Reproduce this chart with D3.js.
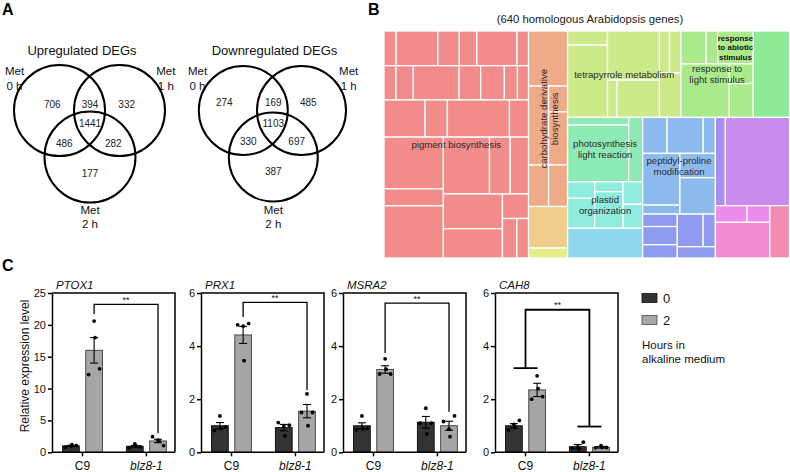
<!DOCTYPE html>
<html><head><meta charset="utf-8">
<script src="https://cdn.jsdelivr.net/npm/d3@7"></script>
<style>
body{margin:0;background:#fff}
svg{display:block;font-family:Arial,"Liberation Sans",sans-serif}
</style>
</head><body><svg id="fig" width="790" height="472"></svg>
<script>
// ================= Panel A : Venn diagrams =================
const vennTitles = ["Upregulated DEGs", "Downregulated DEGs"];
const vennSetLabels = [["Met", "0 h"], ["Met", "1 h"], ["Met", "2 h"]];
// region order: 0h only, 0h&1h, 1h only, all three, 0h&2h, 1h&2h, 2h only
const upCounts = [706, 394, 332, 1441, 486, 282, 177];
const downCounts = [274, 169, 485, 1103, 330, 697, 387];

// ================= Panel B : GO treemap =================
const treemapTitle = "(640 homologous Arabidopsis genes)";
const pigmentBlocks = [
  {dir: "h", children: [42, 145, 74, 61, 139, 40]},
  {dir: "h", children: [41, 59, 157, 74, 81, 45, 38]},
  {dir: "h", children: [153, 83, 231, 71]},
  {dir: "h", children: [
    {dir: "v", children: [307, 101, 310]},
    {dir: "v", children: [
      {dir: "h", children: [262, 118, 104]},
      {dir: "h", children: [{dir: "v", children: [205, 173]}, {dir: "v", children: [64, {dir: "h", children: [57, 46]}]}]}
    ]}
  ]}
];
const carbohydrateBlocks = [215, {dir: "h", children: [{dir: "v", children: [158, 83]}, {dir: "v", children: [49, 101, 79]}]}];
const tetrapyrroleBlocks = [
  {dir: "v", children: [56, 289]},
  {dir: "v", children: [255, {dir: "h", children: [35, 159]}]},
  {dir: "v", children: [{dir: "h", children: [42, 48]}, 95]}
];
const lightStimulusBlocks = [
  {dir: "h", children: [83, 38, {value: 117, label: "response\nto abiotic\nstimulus", bold: true}]},
  {dir: "h", children: [259, {dir: "v", children: [47, 81]}]}
];
const photosynthesisBlocks = [{dir: "v", children: [47, 346]}, 90];
const plastidBlocks = [{dir: "v", children: [45, 81]}, {dir: "v", children: [28, 104]}, {dir: "v", children: [44, 47]}];
const peptidylBlocks = [
  {dir: "h", children: [88, 130, 44]},
  {dir: "h", children: [{dir: "v", children: [193, 34]}, {dir: "v", children: [86, 129]}]}
];
const blueBlocks = [{dir: "v", children: [43, 63, 46]}, {dir: "v", children: [{dir: "h", children: [84, 40]}, 43]}];

// ================= Panel C : qPCR bars =================
const genes = ["PTOX1", "PRX1", "MSRA2", "CAH8"];
const genotypes = ["C9", "blz8-1"];
const hours = ["0", "2"];
const yMax = [25, 6, 6, 6];
const yTickStep = [5, 2, 2, 2];
// per gene: [C9 0h, C9 2h, blz8-1 0h, blz8-1 2h]
const barMeans = [[1.0, 16.0, 0.95, 1.78], [1.0, 4.42, 0.93, 1.55], [1.0, 3.12, 1.13, 1.0], [1.0, 2.35, 0.21, 0.19]];
const barSem = [[0.1, 2.0, 0.12, 0.27], [0.12, 0.32, 0.12, 0.25], [0.11, 0.14, 0.22, 0.17], [0.08, 0.25, 0.08, 0.03]];
const barPoints = [
  [[1.0, 1.2, 0.8, 1.05], [20.6, 18.0, 12.2, 13.1], [1.3, 1.0, 0.7, 0.85], [1.9, 1.75, 2.45, 1.05]],
  [[1.37, 0.9, 0.82, 0.95], [4.75, 3.45, 4.8, 4.85], [1.0, 0.62, 1.12, 1.02], [2.2, 1.0, 1.5, 1.5]],
  [[1.37, 0.88, 0.85, 0.9], [3.52, 3.13, 2.95, 2.95], [1.66, 0.69, 1.1, 1.1], [0.87, 0.59, 1.16, 1.37]],
  [[1.05, 0.93, 0.85, 1.2], [2.88, 2.4, 2.0, 2.1], [0.2, 0.12, 0.15, 0.38], [0.25, 0.18, 0.17, 0.18]]
];
const bracketY = [23.2, 5.65, 5.62, 5.37];
const bracketLeftEnd = [21.7, 5.1, 3.74, 3.17];
const bracketRightEnd = [3.0, 2.35, 1.53, 0.97];
const bracketKind = ["bar", "bar", "bar", "group"];
const legendTitle = ["Hours in", "alkaline medium"];

// ---------------------------------------------------------
const svg = d3.select("#fig");
const FONT = 'Arial,"Liberation Sans",sans-serif';

// panel letters
[["A", 2, 15], ["B", 368, 15], ["C", 2, 271]].forEach(([t, x, y]) =>
  svg.append("text").attr("x", x).attr("y", y).attr("font-size", 16).attr("font-weight", "bold").text(t));

// ---------------- Venn ----------------
const vennLayouts = [
  {cx: 90, cy: 157, r: 45.5, dx: [-30.5, 29.5], dy: -46.5, tx: 82,
   nx: [-37.7, 0, 36.7, 0, -25.7, 23.3, 0], ny: [104, 104, 104, 123.3, 143.3, 143.3, 173.3],
   lx: [14.5, 165.8]},
  {cx: 273.3, cy: 157, r: 44.5, dx: [-30, 28.2], dy: -46.5, tx: 274.5,
   nx: [-49, 0, 35, 0, -25, 23.4, 0], ny: [102.3, 102.3, 102.3, 123.3, 141.7, 141.7, 171.7],
   lx: [197.5, 348.7]}
];
[upCounts, downCounts].forEach((counts, vi) => {
  const L = vennLayouts[vi];
  const g = svg.append("g");
  const centers = [[L.cx + L.dx[0], L.cy + L.dy], [L.cx + L.dx[1], L.cy + L.dy], [L.cx, L.cy]];
  g.selectAll("circle").data(centers).join("circle")
    .attr("cx", d => d[0]).attr("cy", d => d[1]).attr("r", L.r)
    .attr("fill", "none").attr("stroke", "#000").attr("stroke-width", 2);
  g.append("text").attr("x", L.tx).attr("y", 55).attr("text-anchor", "middle")
    .attr("font-size", 13).attr("fill", "#111").text(vennTitles[vi]);
  g.selectAll("text.n").data(counts).join("text").attr("class", "n")
    .attr("x", (d, i) => L.cx + L.nx[i]).attr("y", (d, i) => L.ny[i])
    .attr("text-anchor", "middle").attr("dominant-baseline", "central")
    .attr("font-size", 10).attr("fill", "#222").text(d => d);
  const setPos = [[L.lx[0], 75], [L.lx[1], 75], [L.cx, 213.5]];
  vennSetLabels.forEach((lines, si) => {
    lines.forEach((ln, li) => {
      g.append("text").attr("x", setPos[si][0]).attr("y", setPos[si][1] + li * 14.5)
        .attr("text-anchor", "middle").attr("font-size", 11.5).attr("fill", "#111").text(ln);
    });
  });
});

// ---------------- Treemap ----------------
const treeData = {dir: "h", children: [
  {label: "pigment biosynthesis", color: "#f18c8b", dir: "v", children: pigmentBlocks},
  {dir: "v", children: [
    {label: "carbohydrate derivative\nbiosynthesis", rotate: true, color: "#efab88", dir: "v", children: carbohydrateBlocks},
    {value: 162, color: "#efcd8b"},
    {value: 39, color: "#e6ed8b"}
  ]},
  {dir: "v", children: [
    {dir: "h", children: [
      {label: "tetrapyrrole metabolism", color: "#cdea8b", dir: "h", children: tetrapyrroleBlocks},
      {label: "response to\nlight stimulus", color: "#aaea8b", dir: "v", children: lightStimulusBlocks},
      {value: 313, color: "#8eea97"}
    ]},
    {dir: "h", children: [
      {dir: "v", children: [
        {label: "photosynthesis\nlight reaction", color: "#8eeab4", dir: "h", children: photosynthesisBlocks},
        {label: "plastid\norganization", color: "#8eecdc", dir: "h", children: plastidBlocks},
        {value: 223, color: "#8ed9ee"}
      ]},
      {dir: "v", children: [
        {label: "peptidyl-proline\nmodification", color: "#8cbaee", dir: "v", children: peptidylBlocks},
        {color: "#8e9bee", dir: "h", children: blueBlocks}
      ]},
      {dir: "v", children: [
        {dir: "h", children: [{value: 88, color: "#a88eee"}, {value: 566, color: "#c88cee"}]},
        {dir: "h", children: [
          {dir: "v", children: [{dir: "h", color: "#ee8cee", children: [53, 38]}, {value: 194, color: "#ef8cd4"}]},
          {value: 103, color: "#ef8caf"}
        ]}
      ]}
    ]}
  ]}
]};
function norm(n) {
  if (typeof n === "number") return {value: n};
  if (n.children) n.children = n.children.map(norm);
  return n;
}
const root = d3.hierarchy(norm(treeData)).sum(d => d.children ? 0 : d.value);
d3.treemap().size([405.5, 227])
  .tile((node, x0, y0, x1, y1) => (node.data.dir === "v" ? d3.treemapSlice : d3.treemapDice)(node, x0, y0, x1, y1))(root);
const tm = svg.append("g").attr("transform", "translate(384,31)");
function colorOf(n) { while (n) { if (n.data.color) return n.data.color; n = n.parent; } return "#ccc"; }
tm.selectAll("rect").data(root.leaves()).join("rect")
  .attr("x", d => d.x0).attr("y", d => d.y0)
  .attr("width", d => d.x1 - d.x0).attr("height", d => d.y1 - d.y0)
  .attr("fill", d => colorOf(d)).attr("stroke", "#fff").attr("stroke-width", 1.3);
root.descendants().filter(d => d.data.label).forEach(d => {
  const cx = (d.x0 + d.x1) / 2, cy = (d.y0 + d.y1) / 2;
  const lines = d.data.label.split("\n");
  const fs = d.data.bold ? 8 : 9.6;
  const lh = d.data.bold ? 9.6 : 11;
  const t = tm.append("text").attr("font-size", fs).attr("fill", d.data.bold ? "#111" : "#2a2a2a")
    .attr("font-weight", d.data.bold ? "bold" : "normal").attr("text-anchor", "middle");
  if (d.data.rotate) t.attr("transform", `translate(${cx + 1},${cy}) rotate(-90)`);
  else t.attr("transform", `translate(${cx},${cy})`);
  lines.forEach((ln, i) => t.append("tspan").attr("x", 0)
    .attr("y", (i - (lines.length - 1) / 2) * lh).attr("dy", "0.35em").text(ln));
});
svg.append("text").attr("x", 590).attr("y", 23).attr("text-anchor", "middle")
  .attr("font-size", 11.3).attr("fill", "#222").text(treemapTitle);

// ---------------- Bar charts ----------------
const panelLeft = [52, 201, 343, 495];
const panelW = 123;
const barFill = ["#333333", "#a6a6a6"];
const barStroke = ["#111", "#4a4a4a"];
const dotOffset = [0, 1, -5.5, 5.5];
genes.forEach((gene, gi) => {
  const g = svg.append("g");
  const left = panelLeft[gi], right = left + panelW;
  const y = d3.scaleLinear().domain([0, yMax[gi]]).range([452.3, 293]);
  const x0 = d3.scaleBand().domain(genotypes).range([left, right]).paddingInner(0.375).paddingOuter(0.15).align(0.55);
  const x1 = d3.scaleBand().domain(hours).range([0, x0.bandwidth()]).paddingInner(0.28);
  const rows = [];
  genotypes.forEach((gt, a) => hours.forEach((h, b) => {
    const k = a * 2 + b;
    rows.push({gt, h, b, mean: barMeans[gi][k], sem: barSem[gi][k], pts: barPoints[gi][k],
      cx: x0(gt) + x1(h) + x1.bandwidth() / 2});
  }));
  g.selectAll("rect.bar").data(rows).join("rect").attr("class", "bar")
    .attr("x", d => x0(d.gt) + x1(d.h)).attr("width", x1.bandwidth())
    .attr("y", d => y(d.mean)).attr("height", d => y(0) - y(d.mean))
    .attr("fill", d => barFill[d.b]).attr("stroke", d => barStroke[d.b]).attr("stroke-width", 1);
  // error bars
  rows.forEach(d => {
    const e = g.append("g").attr("stroke", "#000").attr("stroke-width", 1.1);
    e.append("line").attr("x1", d.cx).attr("x2", d.cx).attr("y1", y(d.mean - d.sem)).attr("y2", y(d.mean + d.sem));
    [d.mean - d.sem, d.mean + d.sem].forEach(v =>
      e.append("line").attr("x1", d.cx - 4).attr("x2", d.cx + 4).attr("y1", y(v)).attr("y2", y(v)));
    g.selectAll(null).data(d.pts).join("circle")
      .attr("cx", (p, i) => d.cx + dotOffset[i]).attr("cy", p => y(p)).attr("r", 1.9).attr("fill", "#000");
  });
  // axes
  const ya = d3.axisLeft(y).tickValues(d3.range(0, yMax[gi] + 0.001, yTickStep[gi]))
    .tickFormat(d3.format("d")).tickSize(4).tickSizeOuter(0).tickPadding(2);
  const yg = g.append("g").attr("transform", `translate(${left},0)`).call(ya);
  yg.selectAll("text").attr("font-size", 11).attr("font-family", FONT).attr("fill", "#111");
  yg.selectAll("line,path").attr("stroke", "#000").attr("stroke-width", 1.5);
  const xa = d3.axisBottom(x0).tickSize(4).tickSizeOuter(0).tickPadding(5);
  const xg = g.append("g").attr("transform", `translate(0,${y(0)})`).call(xa);
  xg.select("path").attr("d", `M${left},0H${right}`);
  xg.selectAll("line,path").attr("stroke", "#000").attr("stroke-width", 1.5);
  xg.selectAll("text").attr("font-size", 12).attr("font-family", FONT).attr("fill", "#111")
    .attr("font-style", d => d === "blz8-1" ? "italic" : "normal");
  // frame (top & right)
  g.append("path").attr("d", `M${left},${y(yMax[gi])}H${right}V${y(0)}`)
    .attr("fill", "none").attr("stroke", "#000").attr("stroke-width", 1.5);
  // title
  g.append("text").attr("x", left + 4).attr("y", 289).attr("font-size", 11.5)
    .attr("font-style", "italic").attr("fill", "#111").text(gene);
  // significance bracket
  let xl, xr;
  if (bracketKind[gi] === "bar") { xl = rows[1].cx; xr = rows[3].cx; }
  else { xl = x0("C9") + x0.bandwidth() / 2; xr = x0("blz8-1") + x0.bandwidth() / 2; }
  const bg = g.append("g").attr("stroke", "#000").attr("fill", "none").attr("stroke-width", bracketKind[gi] === "bar" ? 1.3 : 1.8);
  bg.append("path").attr("d", `M${xl},${y(bracketLeftEnd[gi])}V${y(bracketY[gi])}H${xr}V${y(bracketRightEnd[gi])}`);
  if (bracketKind[gi] === "group") {
    [[xl, bracketLeftEnd[gi]], [xr, bracketRightEnd[gi]]].forEach(([cx, v]) =>
      bg.append("line").attr("x1", cx - 12).attr("x2", cx + 12).attr("y1", y(v)).attr("y2", y(v)));
  }
  g.append("text").attr("x", (xl + xr) / 2).attr("y", y(bracketY[gi]) - 1.5).attr("text-anchor", "middle")
    .attr("font-size", 9).attr("fill", "#111").text("**");
});
// y axis label
svg.append("text").attr("transform", "translate(29,366) rotate(-90)").attr("text-anchor", "middle")
  .attr("font-size", 12).attr("fill", "#111").text("Relative expression level");
// legend
hours.forEach((h, i) => {
  svg.append("rect").attr("x", 642).attr("y", 293.5 + i * 22).attr("width", 15).attr("height", 9)
    .attr("fill", barFill[i]).attr("stroke", barStroke[i]).attr("stroke-width", 0.8);
  svg.append("text").attr("x", 663).attr("y", 302.5 + i * 22).attr("font-size", 13).attr("fill", "#111").text(h);
});
legendTitle.forEach((t, i) => svg.append("text").attr("x", 642).attr("y", 348.5 + i * 14)
  .attr("font-size", 11.5).attr("fill", "#111").text(t));
</script>
</body></html>
